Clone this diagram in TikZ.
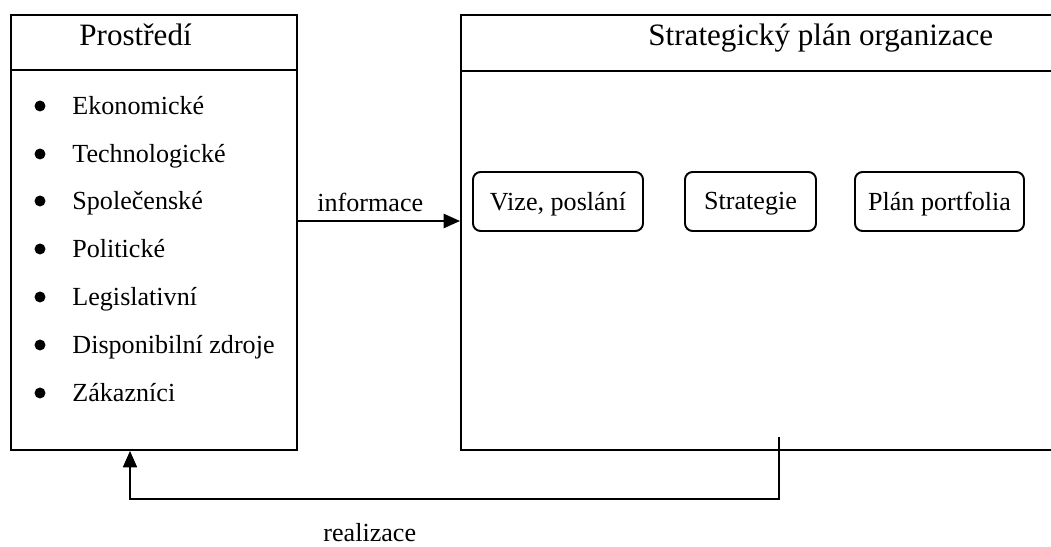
\documentclass[tikz,border=0pt]{standalone}
\usepackage{fontspec}
\setmainfont{Liberation Serif}
\usetikzlibrary{arrows.meta,positioning}

\newcommand{\px}{0.46pt}

\tikzset{
    frame/.style={draw, line width=0.9pt, inner sep=0pt},
    headline/.style={line width=0.6pt},
    heading/.style={anchor=base west, inner sep=0pt, font=\fontsize{14.3}{17}\selectfont},
    item/.style={anchor=base west, inner sep=0pt, font=\fontsize{12}{14}\selectfont},
    part/.style={draw, rounded corners=3.5pt, line width=0.9pt, inner sep=0pt,
        minimum height=59*\px, text depth=0.5pt, font=\fontsize{12}{14}\selectfont},
    flow/.style={line width=0.9pt, -{Triangle[length=7.5pt,width=6.5pt]}},
    back/.style={line width=0.6pt, -{Triangle[length=7.5pt,width=6.5pt]}}
}

\begin{document}
\begin{tikzpicture}[x=0.46pt, y=-0.46pt]
        \useasboundingbox (0,0) rectangle (1051,547);

        % Prostredi
        \node[frame, minimum width=286*\px, minimum height=435*\px] (env) at (154,232.5) {};
        \draw[headline] (11,70) -- (297,70);
        \node[heading] (envtitle) at (79,46) {Prostředí};

        \filldraw (40,106) circle (5);
        \filldraw (40,154) circle (5);
        \filldraw (40,201) circle (5);
        \filldraw (40,249) circle (5);
        \filldraw (40,297) circle (5);
        \filldraw (40,345) circle (5);
        \filldraw (40,393) circle (5);
        \node[item] (eko) at (72,115) {Ekonomické};
        \node[item] (tech) at (72,163) {Technologické};
        \node[item] (spol) at (72,210) {Společenské};
        \node[item] (pol) at (72,258) {Politické};
        \node[item] (leg) at (72,306) {Legislativní};
        \node[item] (zdroje) at (72,354) {Disponibilní zdroje};
        \node[item] (zak) at (72,402) {Zákazníci};

        % Strategicky plan
        \node[frame, minimum width=610*\px, minimum height=435*\px] (plan) at (766,232.5) {};
        \draw[headline] (461,71) -- (1051,71);
        \node[heading] (plantitle) at (648,46) {Strategický plán organizace};

        \node[part, minimum width=170*\px] (vize) at (558,201.5) {Vize, poslání};
        \node[part, minimum width=131*\px] (strat) at (750.5,201.5) {Strategie};
        \node[part, minimum width=169*\px] (portf) at (939.5,201.5) {Plán portfolia};

        % informace
        \draw[flow] (env.east |- 0,221) -- (plan.west |- 0,221);
        \node[item] (info) at (317,212) {informace};

        % realizace
        \coordinate (out) at (779,437);
        \draw[back] (out) |- (130,499) -- (env.south -| 130,0);
        \node[item] (real) at (323,542) {realizace};
\end{tikzpicture}
\end{document}
